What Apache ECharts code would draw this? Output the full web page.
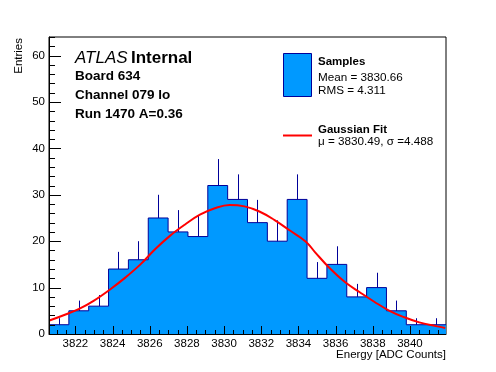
<!DOCTYPE html>
<html>
<head>
<meta charset="utf-8">
<script src="https://cdn.jsdelivr.net/npm/echarts@6/dist/echarts.min.js"></script>
<style>html,body{margin:0;padding:0;background:#fff}#c{width:496px;height:372px}</style>
</head>
<body>
<div id="c"></div>
<script>
// ---- data ----
const binCounts = [2, 5, 6, 14, 16, 25, 22, 21, 32, 29, 24, 20, 29, 12, 15, 8, 10, 5, 2, 2];
const binErrors = [1.4, 2.2, 2.4, 3.7, 4.0, 5.0, 4.7, 4.6, 5.7, 5.4, 4.9, 4.5, 5.4, 3.5, 3.9, 2.8, 3.2, 2.2, 1.4, 1.4];
const fitX = [3820.6, 3821.4, 3822.2, 3823.0, 3823.9, 3824.7, 3825.5, 3826.3, 3827.1, 3827.9, 3828.7, 3829.5, 3830.3, 3831.1, 3831.9, 3832.7, 3833.5, 3834.4, 3834.9, 3835.7, 3836.5, 3837.3, 3838.1, 3838.9, 3839.7, 3840.5, 3841.4, 3841.9];
const fitY = [2.9, 4.1, 5.4, 7.2, 9.7, 12.2, 15.0, 18.3, 21.2, 23.6, 25.7, 27.1, 27.8, 27.5, 26.4, 24.6, 22.4, 19.9, 17.6, 14.1, 11.2, 9.0, 6.9, 5.0, 3.6, 2.5, 1.7, 1.3];
const xMajorTicks = [3822, 3824, 3826, 3828, 3830, 3832, 3834, 3836, 3838, 3840];
const yMajorTicks = [0, 10, 20, 30, 40, 50, 60];
const xRange = [3820.58, 3841.94];
const yRange = [0, 64];

// ---- derived ----
const nBins = binCounts.length;
const binW = (xRange[1] - xRange[0]) / nBins;
const stepData = binCounts.map((v, i) => [xRange[0] + i * binW, v]);
stepData.push([xRange[1], binCounts[nBins - 1]]);
const errData = binCounts.map((v, i) => [xRange[0] + (i + 0.5) * binW, v, binErrors[i]]);
const fitData = fitX.map((x, i) => [x, fitY[i]]);
const xTickData = [];
for (let x = 3820.5; x <= 3842; x += 0.5) if (x >= xRange[0] && x <= xRange[1]) xTickData.push([x, xMajorTicks.indexOf(x) >= 0 ? 1 : 0]);
const yTickData = [];
for (let y = 0; y <= 64; y += 2) yTickData.push([y, yMajorTicks.indexOf(y) >= 0 ? 1 : 0]);

const FONT = "'Liberation Sans', Arial, Helvetica, sans-serif";
const FILL = '#0099ff';
const EDGE = '#000099';
const plain = v => String(v);

const chart = echarts.init(document.getElementById('c'), null, {renderer: 'canvas'});
chart.setOption({
  animation: false,
  backgroundColor: '#fff',
  grid: {left: 49, right: 50, top: 37, bottom: 38, show: true, borderColor: '#000', borderWidth: 1, backgroundColor: 'transparent', containLabel: false},
  xAxis: {type: 'value', min: xRange[0], max: xRange[1], position: 'bottom', z: 10,
     axisLine: {show: true, lineStyle: {color: '#000', width: 1}},
     axisTick: {show: false},
     axisLabel: {show: true, color: '#000', fontFamily: FONT, fontSize: 11.5, margin: 4, customValues: xMajorTicks, formatter: plain},
     splitLine: {show: false}},
  yAxis: {type: 'value', min: yRange[0], max: yRange[1], position: 'left', z: 10,
     axisLine: {show: true, lineStyle: {color: '#000', width: 1}},
     axisTick: {show: false},
     axisLabel: {show: true, color: '#000', fontFamily: FONT, fontSize: 11.5, margin: 4, customValues: yMajorTicks, formatter: plain},
     splitLine: {show: false}},
  series: [
    {type: 'line', name: 'Samples', data: stepData, step: 'end',
     symbol: 'none', lineStyle: {color: EDGE, width: 1}, areaStyle: {color: FILL, opacity: 1}, z: 2},
    {type: 'custom', data: errData, z: 3,
     encode: {x: 0, y: 1},
     renderItem: function (params, api) {
       const x = api.value(0), v = api.value(1), e = api.value(2);
       const p0 = api.coord([x, v]);
       const p1 = api.coord([x, v + e]);
       const px = Math.round(p0[0]) + 0.5;
       return {type: 'line', shape: {x1: px, y1: p0[1], x2: px, y2: p1[1]},
               style: {stroke: EDGE, lineWidth: 1}};
     }},
    {type: 'line', name: 'Gaussian Fit', data: fitData, smooth: 0.4,
     symbol: 'none', lineStyle: {color: '#ff0000', width: 2}, z: 4},
    {type: 'custom', data: xTickData, z: 10, clip: false, silent: true,
     encode: {x: 0},
     renderItem: function (params, api) {
       const p = api.coord([api.value(0), yRange[0]]);
       const len = api.value(1) ? 8 : 4;
       const px = Math.round(p[0]) + 0.5;
       return {type: 'line', shape: {x1: px, y1: p[1], x2: px, y2: p[1] - len},
               style: {stroke: '#000', lineWidth: 1}};
     }},
    {type: 'custom', data: yTickData, z: 10, clip: false, silent: true,
     encode: {y: 0},
     renderItem: function (params, api) {
       const p = api.coord([xRange[0], api.value(0)]);
       const len = api.value(1) ? 12 : 6;
       const py = Math.round(p[1]) + 0.5;
       return {type: 'line', shape: {x1: p[0], y1: py, x2: p[0] + len, y2: py},
               style: {stroke: '#000', lineWidth: 1}};
     }}
  ],
  graphic: [
    {type: 'text', x: 19, y: 38, rotation: Math.PI / 2,
     style: {text: 'Entries', fill: '#000', font: '11.5px ' + FONT, align: 'right', verticalAlign: 'middle'}},
    {type: 'text', x: 446, y: 355,
     style: {text: 'Energy [ADC Counts]', fill: '#000', font: '11.5px ' + FONT, align: 'right', verticalAlign: 'middle'}},
    {type: 'text', x: 75, y: 58,
     style: {text: '{a|ATLAS} {b|Internal}', verticalAlign: 'middle', align: 'left',
       rich: {a: {fontFamily: FONT, fontSize: 17, fontStyle: 'italic', fill: '#000'},
              b: {fontFamily: FONT, fontSize: 17, fontWeight: 'bold', fill: '#000'}}}},
    {type: 'text', x: 75, y: 76,
     style: {text: 'Board 634', fill: '#000', font: 'bold 13.5px ' + FONT, verticalAlign: 'middle'}},
    {type: 'text', x: 75, y: 95.5,
     style: {text: 'Channel 079 lo', fill: '#000', font: 'bold 13.5px ' + FONT, verticalAlign: 'middle'}},
    {type: 'text', x: 75, y: 114,
     style: {text: 'Run 1470 A=0.36', fill: '#000', font: 'bold 13.5px ' + FONT, verticalAlign: 'middle'}},
    {type: 'rect', shape: {x: 283.5, y: 53.5, width: 28, height: 43},
     style: {fill: FILL, stroke: EDGE, lineWidth: 1}},
    {type: 'text', x: 318, y: 61.5,
     style: {text: 'Samples', fill: '#000', font: 'bold 11.5px ' + FONT, verticalAlign: 'middle'}},
    {type: 'text', x: 318, y: 77.5,
     style: {text: 'Mean = 3830.66', fill: '#000', font: '11.7px ' + FONT, verticalAlign: 'middle'}},
    {type: 'text', x: 318, y: 90.5,
     style: {text: 'RMS = 4.311', fill: '#000', font: '11.7px ' + FONT, verticalAlign: 'middle'}},
    {type: 'line', shape: {x1: 283, y1: 135.5, x2: 312, y2: 135.5},
     style: {stroke: '#ff0000', lineWidth: 2}},
    {type: 'text', x: 318, y: 129.5,
     style: {text: 'Gaussian Fit', fill: '#000', font: 'bold 11.5px ' + FONT, verticalAlign: 'middle'}},
    {type: 'text', x: 318, y: 142,
     style: {text: 'μ = 3830.49, σ =4.488', fill: '#000', font: '11.7px ' + FONT, verticalAlign: 'middle'}}
  ]
});
</script>
</body>
</html>
